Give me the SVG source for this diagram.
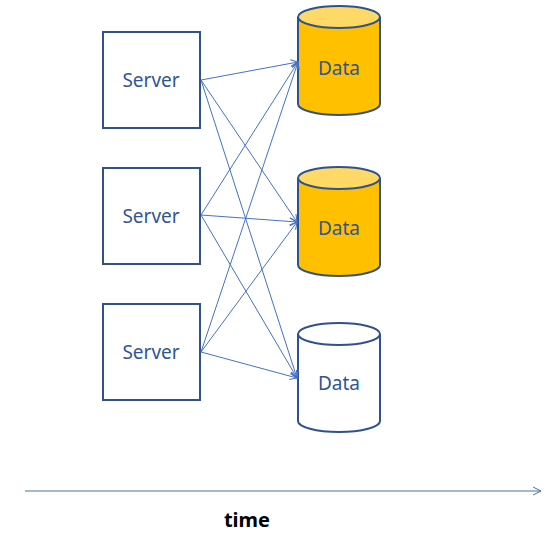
<svg xmlns="http://www.w3.org/2000/svg" width="560" height="554" viewBox="0 0 560 554">
<defs>
<marker id="ah" viewBox="0 0 10 10" refX="9" refY="5" markerWidth="9" markerHeight="9" markerUnits="userSpaceOnUse" orient="auto">
<path d="M1,1 L9,5 L1,9" fill="none" stroke="#4472C4" stroke-width="1.2"/>
</marker>
<marker id="ah2" viewBox="0 0 10 10" refX="9" refY="5" markerWidth="10" markerHeight="10" markerUnits="userSpaceOnUse" orient="auto">
<path d="M1,1 L9,5 L1,9" fill="none" stroke="#4A6FA5" stroke-width="1"/>
</marker>
</defs>
<style>
.box{fill:#fff;stroke:#2F528F;stroke-width:2}
.cyl{stroke:#2F528F;stroke-width:2}
.lbl{font-family:"Noto Sans","Open Sans",sans-serif;font-size:19px;fill:#2F5597;text-anchor:middle;dominant-baseline:central}
.edge{fill:none;stroke:#4472C4;stroke-width:1;marker-end:url(#ah)}
</style>
<g id="server1"><rect class="box" x="103" y="32" width="97" height="96"/><text class="lbl" x="151" y="80">Server</text></g>
<g id="server2"><rect class="box" x="103" y="168" width="97" height="96"/><text class="lbl" x="151" y="216">Server</text></g>
<g id="server3"><rect class="box" x="103" y="304" width="97" height="96"/><text class="lbl" x="151" y="352">Server</text></g>
<g id="data1">
<path class="cyl" fill="#FFC000" d="M298,17 L298,104 A41,11 0 0 0 380,104 L380,17"/>
<ellipse class="cyl" fill="#FFD966" cx="339" cy="17" rx="41" ry="11"/>
<text class="lbl" x="339" y="68">Data</text>
</g>
<g id="data2">
<path class="cyl" fill="#FFC000" d="M298,178 L298,265 A41,11 0 0 0 380,265 L380,178"/>
<ellipse class="cyl" fill="#FFD966" cx="339" cy="178" rx="41" ry="11"/>
<text class="lbl" x="339" y="228">Data</text>
</g>
<g id="data3">
<path class="cyl" fill="#fff" d="M298,334 L298,421 A41,11 0 0 0 380,421 L380,334"/>
<ellipse class="cyl" fill="#fff" cx="339" cy="334" rx="41" ry="11"/>
<text class="lbl" x="339" y="383">Data</text>
</g>
<g id="connectors">
<line class="edge" x1="201" y1="80" x2="298" y2="62"/>
<line class="edge" x1="201" y1="80" x2="297" y2="222"/>
<line class="edge" x1="201" y1="80" x2="297" y2="378"/>
<line class="edge" x1="201" y1="215" x2="298" y2="62"/>
<line class="edge" x1="201" y1="215" x2="297" y2="222"/>
<line class="edge" x1="201" y1="215" x2="297" y2="378"/>
<line class="edge" x1="201" y1="352" x2="298" y2="62"/>
<line class="edge" x1="201" y1="352" x2="297" y2="222"/>
<line class="edge" x1="201" y1="352" x2="297" y2="378"/>
<line x1="25" y1="491" x2="541" y2="491" stroke="#4A6FA5" stroke-width="1" marker-end="url(#ah2)"/>
</g>
<text x="247" y="527" font-family="'Noto Sans','Open Sans',sans-serif" font-size="20" font-weight="bold" fill="#000" text-anchor="middle">time</text>
</svg>
